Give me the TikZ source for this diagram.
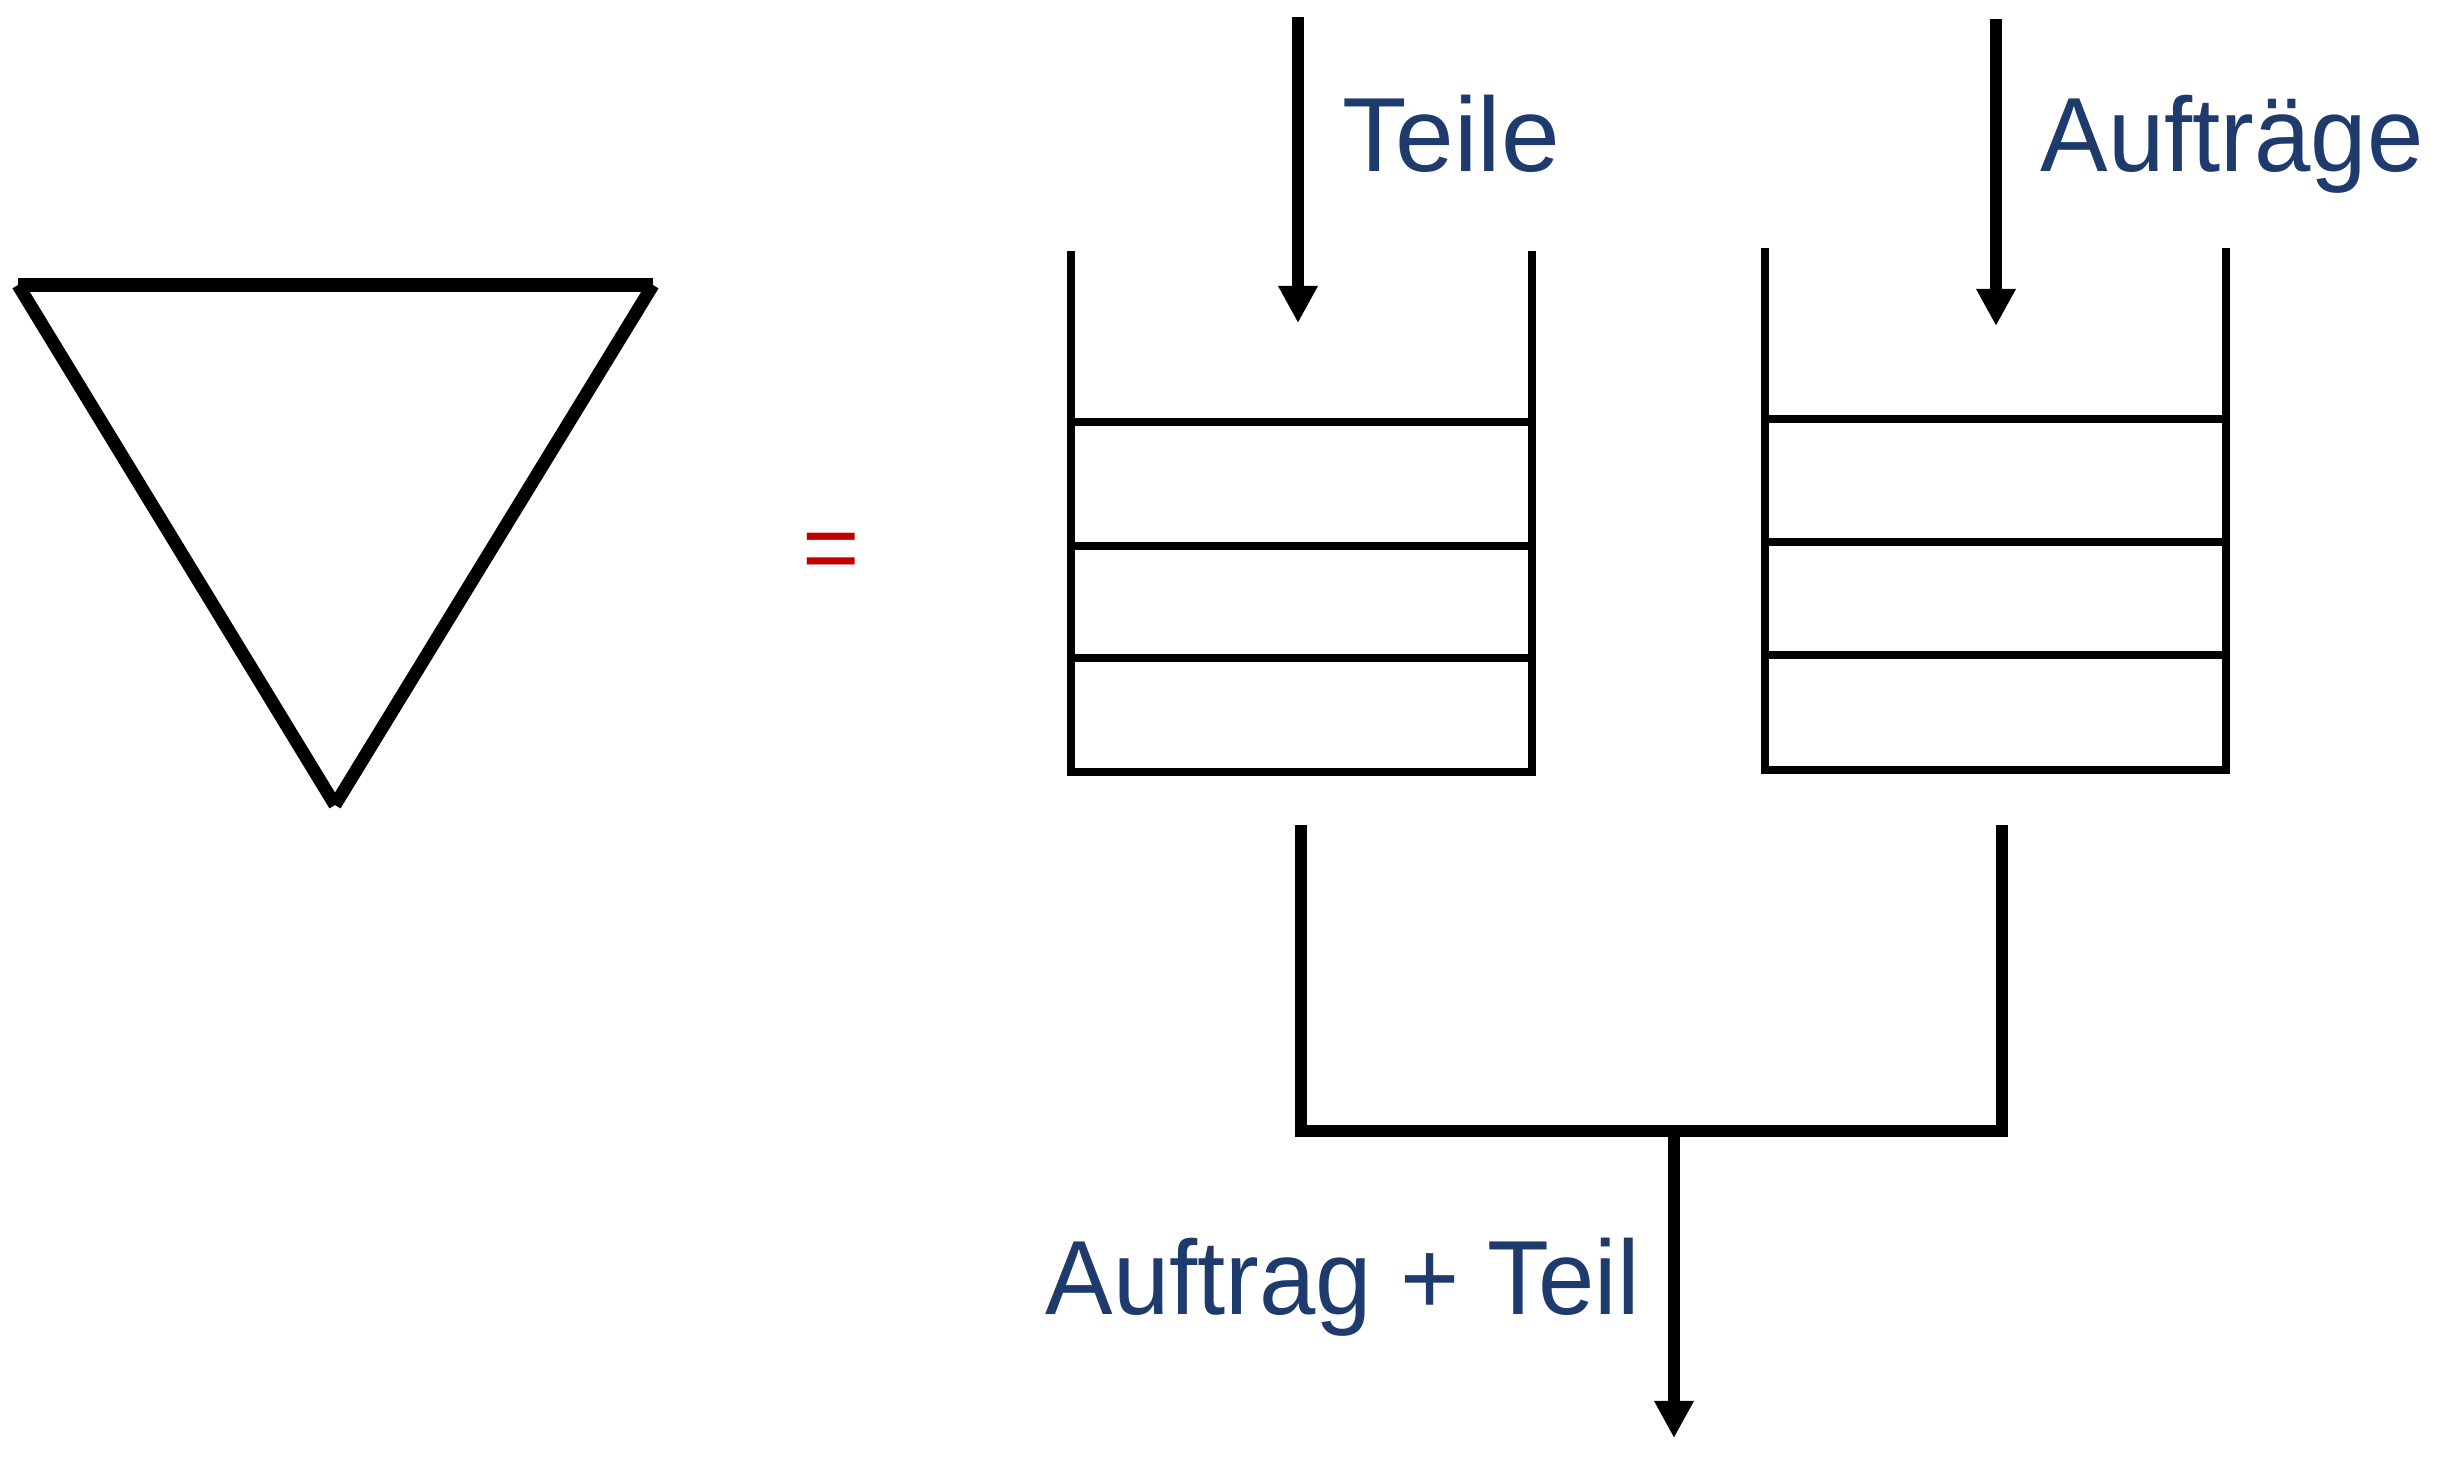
\documentclass[tikz,border=0pt]{standalone}
\usepackage{fontspec}
\setmainfont{Liberation Sans}
\newfontfamily\narrowsans[FakeStretch=0.96]{Liberation Sans}
\usetikzlibrary{arrows.meta}
\definecolor{txtblue}{RGB}{31,59,110}
\definecolor{eqred}{RGB}{192,0,0}
\begin{document}
\begin{tikzpicture}[x=0.01cm,y=-0.01cm,
  thick line/.style={line width=3.7pt},
  wall/.style={line width=2.3pt},
  flow/.style={line width=3.4pt},
  flowarrow/.style={flow,-{Triangle[length=3.7mm,width=3.7mm]}},
  label/.style={inner sep=0pt,anchor=base west,text=txtblue,font=\fontsize{30}{36}\selectfont},
  nlabel/.style={label,font=\narrowsans\fontsize{30}{36}\selectfont}
]
\useasboundingbox (0,0) rectangle (2458,1458);

% triangle symbol
\coordinate (tl) at (18,285);
\coordinate (tr) at (653,285);
\coordinate (tb) at (335,805);
\draw[thick line] (tl) -- (tr);
\draw[thick line] (tl) -- (tb);
\draw[thick line] (tr) -- (tb);

% equals sign
\node[inner sep=0pt,anchor=base,text=eqred,font=\fontsize{28}{34}\selectfont] (eq) at (831,581) {=};

% left buffer (Teile)
\coordinate (A0) at (1071,251);
\coordinate (A1) at (1532,251);
\coordinate (A2) at (1071,772);
\coordinate (A3) at (1532,772);
\draw[wall] (A0) -- (A2) -- (A3) -- (A1);
\foreach \y in {422,546,658}{
  \draw[wall] (1071,\y) -- (1532,\y);
}

% right buffer (Auftraege)
\coordinate (B0) at (1765,248);
\coordinate (B1) at (2226,248);
\coordinate (B2) at (1765,770);
\coordinate (B3) at (2226,770);
\draw[wall] (B0) -- (B2) -- (B3) -- (B1);
\foreach \y in {419,542,655}{
  \draw[wall] (1765,\y) -- (2226,\y);
}

% input arrows
\coordinate (tin0) at (1298,17);
\coordinate (tin1) at (1298,323);
\draw[flowarrow] (tin0) -- (tin1);
\node[label] (teile) at (1342,172) {Teile};

\coordinate (ain0) at (1996,19);
\coordinate (ain1) at (1996,326);
\draw[flowarrow] (ain0) -- (ain1);
\node[nlabel] (auftraege) at (2040,172) {Aufträge};

% output join
\coordinate (L0) at (1301,825);
\coordinate (L1) at (1301,1131);
\coordinate (R0) at (2002,825);
\coordinate (R1) at (2002,1131);
\coordinate (M0) at (1674,1131);
\coordinate (M1) at (1674,1438);
\draw[flow] (L0) -- (L1) -- (R1) -- (R0);
\draw[flowarrow] (M0) -- (M1);
\node[nlabel] (out) at (1045,1314) {Auftrag + Teil};
\end{tikzpicture}
\end{document}
